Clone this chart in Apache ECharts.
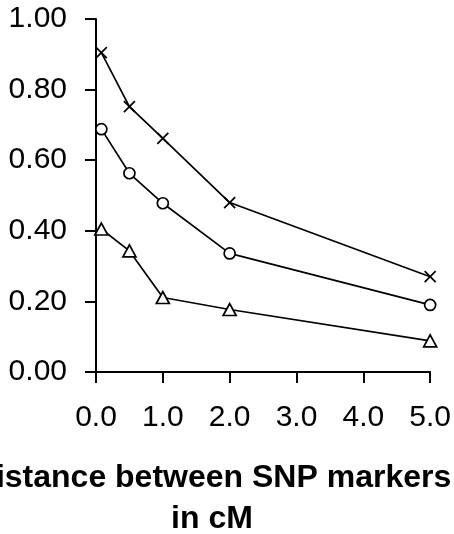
<!DOCTYPE html>
<html>
<head>
<meta charset="utf-8">
<script src="https://cdn.jsdelivr.net/npm/echarts@6/dist/echarts.min.js"></script>
<style>
  html, body { margin: 0; padding: 0; background: #fff; }
  #main { width: 454px; height: 534px; }
</style>
</head>
<body>
<div id="main"></div>
<script>
// distances in cM
var distances = [0.08, 0.5, 1.0, 2.0, 5.0];
// three series
var crossValues = [0.905, 0.752, 0.662, 0.480, 0.270];
var circleValues = [0.688, 0.563, 0.478, 0.336, 0.190];
var triangleValues = [0.405, 0.343, 0.211, 0.177, 0.088];

var yTicks = ['0.00', '0.20', '0.40', '0.60', '0.80', '1.00'];
var xTicks = ['0.0', '1.0', '2.0', '3.0', '4.0', '5.0'];
var xTitle = 'Distance between SNP markers\nin cM';

var FONT = '"Liberation Sans", Arial, Helvetica, sans-serif';

function pairs(vals) {
  return distances.map(function (d, i) { return [d, vals[i]]; });
}

var myChart = echarts.init(document.getElementById('main'), null, { renderer: 'canvas' });

function lineSeries(name, vals, symbol, size) {
  return {
    name: name,
    type: 'line',
    data: pairs(vals),
    symbol: symbol,
    symbolSize: size,
    showAllSymbol: true,
    animation: false,
    lineStyle: { color: '#000', width: 1.7 },
    itemStyle: { color: '#fff', borderColor: '#000', borderWidth: 1.7 },
    z: 3
  };
}

var option = {
  backgroundColor: '#fff',
  animation: false,
  grid: { left: 96, right: 21, top: 19, bottom: 162, containLabel: false },
  xAxis: {
    type: 'value',
    min: 0,
    max: 5,
    interval: 1,
    axisLine: { show: true, lineStyle: { color: '#000', width: 2 } },
    axisTick: { show: true, inside: false, length: 11, lineStyle: { color: '#000', width: 2 } },
    splitLine: { show: false },
    axisLabel: {
      color: '#000',
      fontFamily: FONT,
      fontSize: 30,
      margin: 31,
      formatter: function (v) { return xTicks[Math.round(v)]; }
    }
  },
  yAxis: {
    type: 'value',
    min: 0,
    max: 1,
    interval: 0.2,
    axisLine: { show: true, lineStyle: { color: '#000', width: 2 } },
    axisTick: { show: true, inside: false, length: 11, lineStyle: { color: '#000', width: 2 } },
    splitLine: { show: false },
    axisLabel: {
      color: '#000',
      fontFamily: FONT,
      fontSize: 30,
      margin: 29,
      formatter: function (v) { return yTicks[Math.round(v * 5)]; }
    }
  },
  graphic: [{
    type: 'text',
    x: 212,
    y: 458,
    style: {
      text: xTitle,
      fill: '#000',
      font: 'bold 32px ' + FONT,
      lineHeight: 41,
      textAlign: 'center',
      textVerticalAlign: 'top'
    }
  }],
  series: [
    lineSeries('cross', crossValues, 'path://M0,0L10,10M10,0L0,10', 11),
    lineSeries('circle', circleValues, 'circle', 11),
    lineSeries('triangle', triangleValues, 'triangle', [13, 12])
  ]
};

myChart.setOption(option);
</script>
</body>
</html>
